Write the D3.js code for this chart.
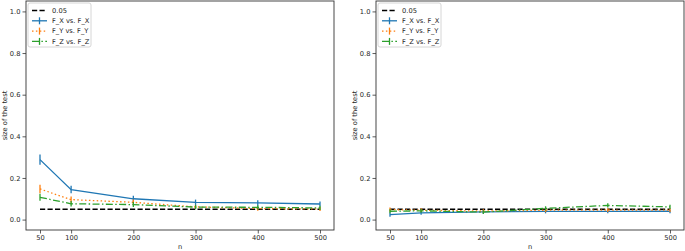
<!DOCTYPE html>
<html>
<head>
<meta charset="utf-8">
<script src="https://cdn.jsdelivr.net/npm/d3@7"></script>
<style>
  body { margin: 0; background: #fff; }
  text { font-family: "DejaVu Sans", sans-serif; fill: #222; }
</style>
</head>
<body>
<svg id="chart" width="685" height="251"></svg>
<script>
// sample sizes on the x axis
const nValues = [50, 100, 200, 300, 400, 500];
const xTicks = [50, 100, 200, 300, 400, 500];
const yTicks = [0.0, 0.2, 0.4, 0.6, 0.8, 1.0];
const alphaLevel = 0.05;

const seriesNames = ["F_X vs. F_X", "F_Y vs. F_Y", "F_Z vs. F_Z"];

// left panel
const leftFX = [0.288, 0.144, 0.100, 0.083, 0.080, 0.075];
const leftFXErr = [0.025, 0.018, 0.015, 0.013, 0.013, 0.012];
const leftFY = [0.147, 0.096, 0.083, 0.061, 0.053, 0.051];
const leftFYErr = [0.020, 0.015, 0.013, 0.010, 0.010, 0.010];
const leftFZ = [0.107, 0.076, 0.072, 0.060, 0.059, 0.056];
const leftFZErr = [0.017, 0.013, 0.012, 0.010, 0.010, 0.010];

// right panel
const rightFX = [0.024, 0.032, 0.037, 0.039, 0.039, 0.040];
const rightFXErr = [0.010, 0.009, 0.009, 0.009, 0.009, 0.009];
const rightFY = [0.048, 0.045, 0.041, 0.045, 0.046, 0.045];
const rightFYErr = [0.010, 0.009, 0.009, 0.009, 0.009, 0.009];
const rightFZ = [0.040, 0.042, 0.036, 0.054, 0.068, 0.061];
const rightFZErr = [0.010, 0.009, 0.009, 0.010, 0.010, 0.010];

const colors = ["#1f77b4", "#ff7f0e", "#2ca02c"];
const dashes = [null, "1.5,2.4", "7,2.4,1.5,2.4"];

const svg = d3.select("#chart");
const fontSize = 6.7;

function drawPanel(left, right, data) {
	let top = 1, bottom = 230;
	let x = d3.scaleLinear().domain([27.5, 522.5]).range([left, right]);
	let y = d3.scaleLinear().domain([-0.05, 1.05]).range([bottom, top]);

	let g = svg.append("g");

	// frame
	g.append("rect")
		.attr("x", left).attr("y", top)
		.attr("width", right - left).attr("height", bottom - top)
		.attr("fill", "none").attr("stroke", "#333").attr("stroke-width", 0.9);

	let xAxis = g.append("g")
		.attr("transform", "translate(0," + bottom + ")")
		.call(d3.axisBottom(x).tickValues(xTicks).tickSize(3.5).tickPadding(2).tickFormat(d3.format("d")));
	let yAxis = g.append("g")
		.attr("transform", "translate(" + left + ",0)")
		.call(d3.axisLeft(y).tickValues(yTicks).tickSize(3.5).tickPadding(2).tickFormat(d3.format(".1f")));
	[xAxis, yAxis].forEach(a => {
		a.select(".domain").remove();
		a.selectAll(".tick line").attr("stroke", "#333").attr("stroke-width", 0.8);
		a.selectAll("text").style("font-size", fontSize + "px").attr("fill", "#222");
	});

	g.append("text")
		.attr("x", (left + right) / 2).attr("y", 249)
		.attr("text-anchor", "middle")
		.style("font-size", fontSize + "px")
		.text("n");
	g.append("text")
		.attr("transform", "translate(" + (left - 19) + "," + ((top + bottom) / 2) + ") rotate(-90)")
		.attr("text-anchor", "middle")
		.style("font-size", fontSize + "px")
		.text("size of the test");

	// 0.05 reference line
	g.append("line")
		.attr("x1", x(nValues[0])).attr("x2", x(nValues[nValues.length - 1]))
		.attr("y1", y(alphaLevel)).attr("y2", y(alphaLevel))
		.attr("stroke", "#000").attr("stroke-width", 1.4)
		.attr("stroke-dasharray", "5.2,2.3");

	let line = d3.line().x(d => x(d.n)).y(d => y(d.v));

	data.forEach((s, i) => {
		let pts = nValues.map((n, j) => ({ n: n, v: s.vals[j], e: s.errs[j] }));
		g.append("path")
			.datum(pts)
			.attr("d", line)
			.attr("fill", "none")
			.attr("stroke", colors[i])
			.attr("stroke-width", 1.3)
			.attr("stroke-dasharray", dashes[i]);
		g.selectAll(".err" + i)
			.data(pts)
			.enter()
			.append("line")
			.attr("x1", d => x(d.n)).attr("x2", d => x(d.n))
			.attr("y1", d => y(d.v - d.e)).attr("y2", d => y(d.v + d.e))
			.attr("stroke", colors[i])
			.attr("stroke-width", 1.3);
	});

	// legend
	let lg = g.append("g").attr("transform", "translate(" + (left + 2) + ",3)");
	lg.append("rect")
		.attr("width", 63).attr("height", 44).attr("rx", 2)
		.attr("fill", "#fff").attr("fill-opacity", 0.8)
		.attr("stroke", "#ccc").attr("stroke-width", 0.8);
	let rowY = [7.5, 17.8, 28.1, 38.4];
	lg.append("line")
		.attr("x1", 4).attr("x2", 19).attr("y1", rowY[0]).attr("y2", rowY[0])
		.attr("stroke", "#000").attr("stroke-width", 1.4).attr("stroke-dasharray", "5.2,2.3");
	lg.append("text").attr("x", 24).attr("y", rowY[0]).attr("dy", "0.35em")
		.style("font-size", fontSize + "px").text(alphaLevel);
	seriesNames.forEach((name, i) => {
		let yy = rowY[i + 1];
		lg.append("line")
			.attr("x1", 4).attr("x2", 19).attr("y1", yy).attr("y2", yy)
			.attr("stroke", colors[i]).attr("stroke-width", 1.3)
			.attr("stroke-dasharray", dashes[i]);
		lg.append("line")
			.attr("x1", 11.5).attr("x2", 11.5).attr("y1", yy - 3.5).attr("y2", yy + 3.5)
			.attr("stroke", colors[i]).attr("stroke-width", 1.3);
		lg.append("text").attr("x", 24).attr("y", yy).attr("dy", "0.35em")
			.style("font-size", fontSize + "px").text(name);
	});
}

drawPanel(26, 334, [
	{ vals: leftFX, errs: leftFXErr },
	{ vals: leftFY, errs: leftFYErr },
	{ vals: leftFZ, errs: leftFZErr }
]);
drawPanel(376, 684, [
	{ vals: rightFX, errs: rightFXErr },
	{ vals: rightFY, errs: rightFYErr },
	{ vals: rightFZ, errs: rightFZErr }
]);
</script>
</body>
</html>
